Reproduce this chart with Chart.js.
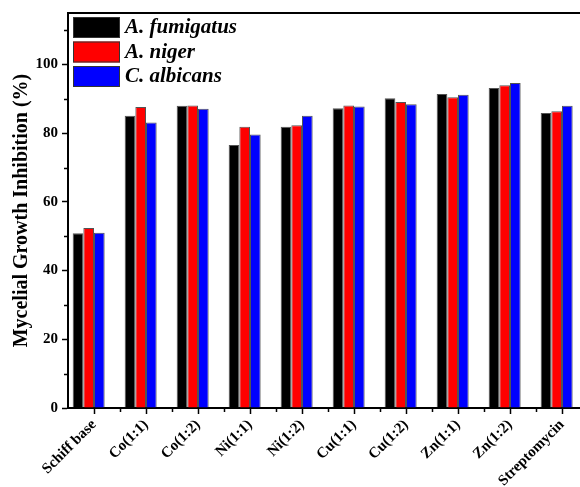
<!DOCTYPE html>
<html>
<head>
<meta charset="utf-8">
<script src="https://cdn.jsdelivr.net/npm/chart.js@4/dist/chart.umd.min.js"></script>
<style>
  html, body { margin: 0; padding: 0; background: #fff; overflow: hidden; }
  #inhibitionChart { display: block; }
</style>
</head>
<body>
<canvas id="inhibitionChart" width="610" height="487"></canvas>
<script>
var compounds = ["Schiff base", "Co(1:1)", "Co(1:2)", "Ni(1:1)", "Ni(1:2)", "Cu(1:1)", "Cu(1:2)", "Zn(1:1)", "Zn(1:2)", "Streptomycin"];
var fumigatus = [50.9, 85.1, 88.0, 76.6, 81.9, 87.3, 90.2, 91.4, 93.2, 85.9];
var niger = [52.4, 87.6, 88.1, 81.9, 82.3, 88.1, 89.1, 90.5, 94.0, 86.4];
var albicans = [51.0, 83.1, 87.1, 79.6, 85.1, 87.8, 88.4, 91.2, 94.6, 88.0];
var seriesNames = ["A. fumigatus", "A. niger", "C. albicans"];
var seriesColors = ["#000000", "#ff0000", "#0000ff"];
var yMajorTicks = [0, 20, 40, 60, 80, 100];

var serif = "'Liberation Serif', 'Times New Roman', serif";

// top frame line, minor ticks and the in-plot legend
var decorations = {
    id: "decorations",
    afterDraw: function (chart) {
        var ctx = chart.ctx;
        var area = chart.chartArea;
        var x = chart.scales.x, y = chart.scales.y;
        ctx.save();
        ctx.strokeStyle = "#000";
        ctx.lineWidth = 2;
        ctx.beginPath();
        ctx.moveTo(area.left - 1, area.top);
        ctx.lineTo(area.right, area.top);
        ctx.stroke();

        ctx.lineWidth = 1.5;
        ctx.beginPath();
        for (var v = 10; v <= 110; v += 20) {
            var py = Math.round(y.getPixelForValue(v)) + 0.5;
            ctx.moveTo(area.left - 4, py);
            ctx.lineTo(area.left, py);
        }
        for (var i = 0; i < compounds.length; i++) {
            var px = (x.getPixelForValue(i) + x.getPixelForValue(i + 1)) / 2;
            px = Math.round(px) + 0.5;
            ctx.moveTo(px, area.bottom);
            ctx.lineTo(px, area.bottom + 4);
        }
        ctx.stroke();

        // legend
        var lx = area.left + 5, ly = area.top + 4;
        ctx.font = "italic bold 21px " + serif;
        ctx.textBaseline = "middle";
        ctx.textAlign = "left";
        for (var k = 0; k < seriesNames.length; k++) {
            var top = ly + k * 24.5;
            ctx.fillStyle = seriesColors[k];
            ctx.fillRect(lx, top, 47, 21);
            ctx.strokeStyle = "#333";
            ctx.lineWidth = 1;
            ctx.strokeRect(lx + 0.5, top + 0.5, 46, 20);
            ctx.fillStyle = "#000";
            ctx.fillText(seriesNames[k], lx + 52, top + 11);
        }
        ctx.restore();
    }
};

var datasets = [fumigatus, niger, albicans].map(function (vals, k) {
    return {
        label: seriesNames[k],
        data: vals,
        backgroundColor: seriesColors[k],
        borderColor: "rgba(40,40,40,0.8)",
        borderWidth: 1
    };
});
// empty fourth slot so the three bars sit left of each tick
datasets.push({ label: "", data: compounds.map(function () { return null; }), backgroundColor: "transparent" });

new Chart(document.getElementById("inhibitionChart"), {
    type: "bar",
    data: { labels: compounds, datasets: datasets },
    options: {
        responsive: false,
        animation: false,
        layout: { padding: { left: 0, top: 13, right: 22, bottom: 0 } },
        datasets: { bar: { barPercentage: 1.0, categoryPercentage: 0.82 } },
        plugins: { legend: { display: false }, tooltip: { enabled: false } },
        scales: {
            x: {
                grid: { offset: false, drawOnChartArea: false, tickLength: 6, tickWidth: 1.5, tickColor: "#000" },
                border: { color: "#000", width: 2 },
                ticks: {
                    color: "#000",
                    font: { family: serif, size: 15, weight: "bold" },
                    minRotation: 45,
                    maxRotation: 45,
                    autoSkip: false,
                    padding: 2
                },
                afterFit: function (scale) { scale.height = 79; }
            },
            y: {
                min: 0,
                max: 115,
                afterBuildTicks: function (scale) {
                    scale.ticks = yMajorTicks.map(function (v) { return { value: v }; });
                },
                grid: { drawOnChartArea: false, tickLength: 6, tickWidth: 1.5, tickColor: "#000" },
                border: { color: "#000", width: 2 },
                ticks: {
                    color: "#000",
                    font: { family: serif, size: 15, weight: "bold" },
                    padding: 4
                },
                title: {
                    display: true,
                    text: "Mycelial Growth Inhibition (%)",
                    color: "#000",
                    font: { family: serif, size: 20, weight: "bold" },
                    padding: { top: 10, bottom: 0 }
                },
                afterFit: function (scale) { scale.width = 68; }
            }
        }
    },
    plugins: [decorations]
});
</script>
</body>
</html>
